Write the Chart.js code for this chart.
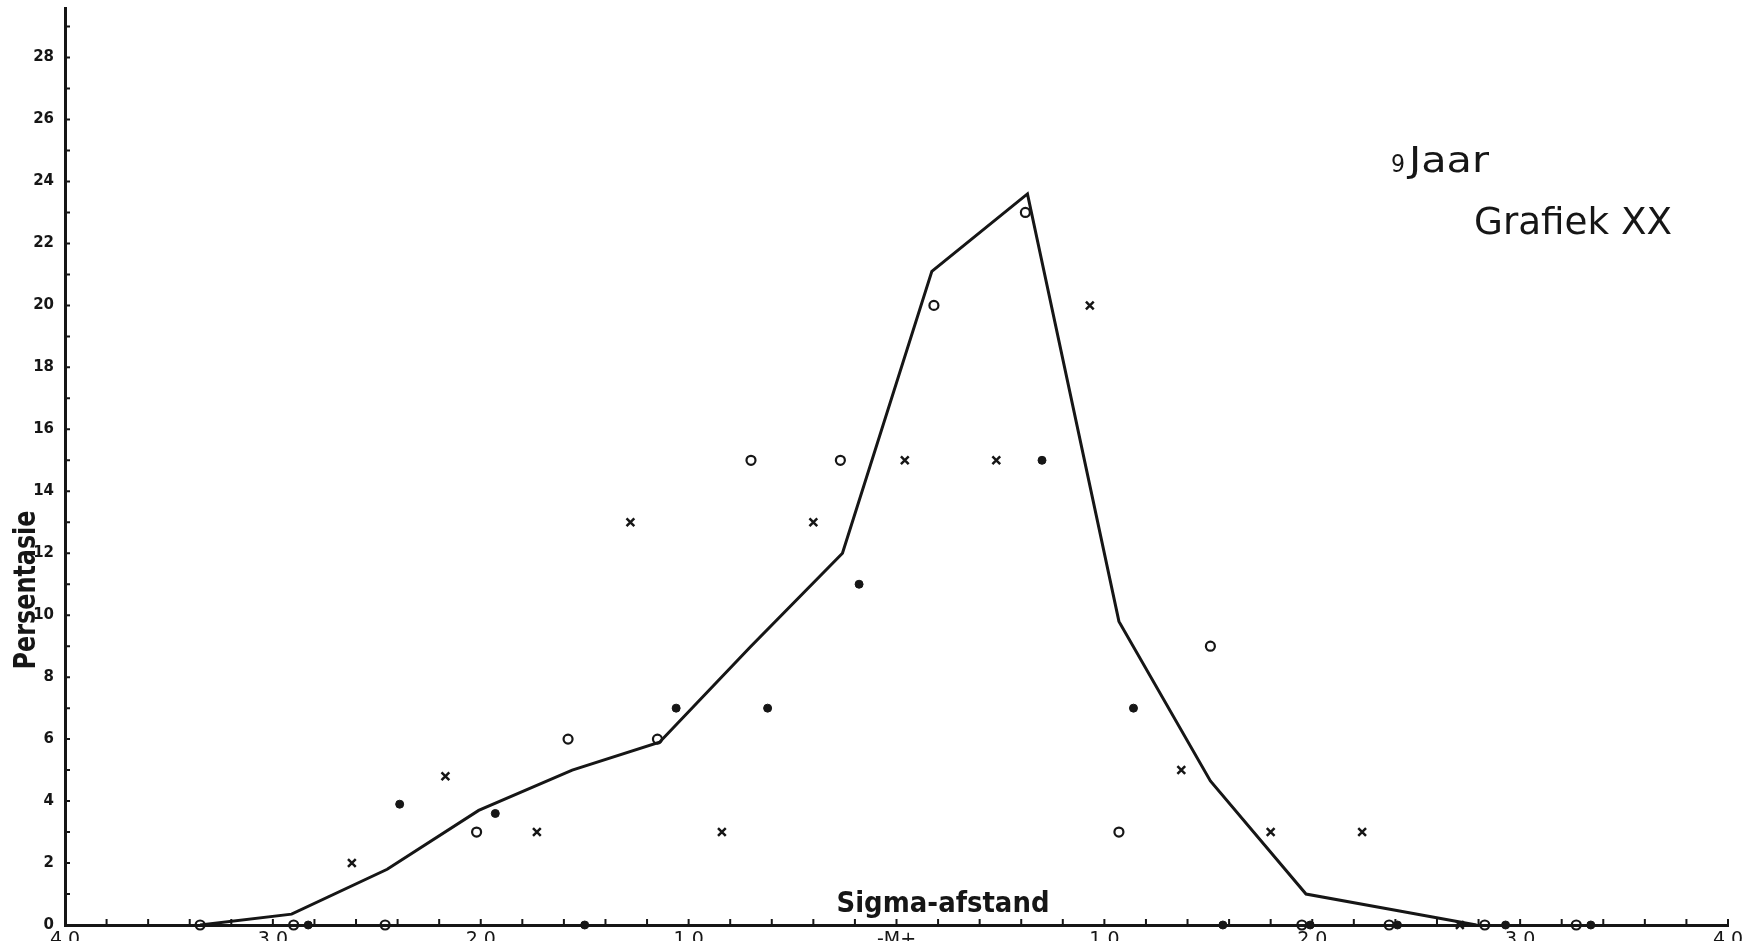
<!DOCTYPE html>
<html>
<head>
<meta charset="utf-8">
<title>Grafiek XX</title>
<script src="https://cdn.jsdelivr.net/npm/chart.js@4.4.1/dist/chart.umd.min.js"></script>
<style>
  html, body { margin: 0; padding: 0; background: #fff; overflow: hidden; }
  canvas { display: block; }
</style>
</head>
<body>
<canvas id="grafiek" width="1753" height="941"></canvas>
<script>
const INK = '#161616'

// x axis: sigma distance from the mean, labelled without sign
const xTickValues = [-4, -3, -2, -1, 0, 1, 2, 3, 4]
const xTickLabels = ['4.0', '3.0', '2.0', '1.0', '-M+', '1.0', '2.0', '3.0', '4.0']
const yTickValues = [0, 2, 4, 6, 8, 10, 12, 14, 16, 18, 20, 22, 24, 26, 28]

// frequency polygon
const lineX = [-3.35, -2.91, -2.45, -2.01, -1.56, -1.14, -0.7, -0.26, 0.17, 0.63, 1.07, 1.51, 1.97, 2.42, 2.79]
const lineY = [0, 0.35, 1.8, 3.7, 5.0, 5.9, 9.0, 12.0, 21.1, 23.6, 9.8, 4.65, 1.0, 0.45, 0]

// group "o"
const circleX = [-3.35, -2.9, -2.46, -2.02, -1.58, -1.15, -0.7, -0.27, 0.18, 0.62, 1.07, 1.51, 1.95, 2.37, 2.83, 3.27]
const circleY = [0, 0, 0, 3, 6, 6, 15, 15, 20, 23, 3, 9, 0, 0, 0, 0]

// group "•"
const dotX = [-2.83, -2.39, -1.93, -1.5, -1.06, -0.62, -0.18, 0.7, 1.14, 1.57, 1.99, 2.41, 2.93, 3.34]
const dotY = [0, 3.9, 3.6, 0, 7, 7, 11, 15, 7, 0, 0, 0, 0, 0]

// group "x"
const crossX = [-2.62, -2.17, -1.73, -1.28, -0.84, -0.4, 0.04, 0.48, 0.93, 1.37, 1.8, 2.24, 2.71]
const crossY = [2, 4.8, 3, 13, 3, 13, 15, 15, 20, 5, 3, 3, 0]

const pts = (xs, ys) => xs.map((x, i) => ({ x, y: ys[i] }))

// draws text squeezed/stretched to a given width
function fitText(ctx, text, x, y, width) {
  const w = ctx.measureText(text).width
  ctx.save()
  ctx.translate(x, y)
  ctx.scale(width / w, 1)
  ctx.fillText(text, 0, 0)
  ctx.restore()
}

// small inward tick marks on both axes
const stubs = {
  id: 'stubs',
  afterDraw(chart) {
    const { ctx, chartArea: a, scales: { x, y } } = chart
    ctx.save()
    ctx.strokeStyle = INK
    ctx.lineWidth = 2
    ctx.beginPath()
    for (let v = 1; v <= 29; v++) {
      const py = y.getPixelForValue(v)
      ctx.moveTo(a.left, py)
      ctx.lineTo(a.left + 5, py)
    }
    for (let k = -19; k <= 20; k++) {
      const px = x.getPixelForValue(k / 5)
      ctx.moveTo(px, a.bottom)
      ctx.lineTo(px, a.bottom - 6)
    }
    ctx.stroke()
    ctx.restore()
  },
}

// axis titles and headings
const lettering = {
  id: 'lettering',
  afterDraw(chart) {
    const { ctx } = chart
    ctx.save()
    ctx.fillStyle = INK
    ctx.textBaseline = 'alphabetic'

    ctx.textAlign = 'center'
    ctx.font = 'bold 28px "DejaVu Sans"'
    fitText(ctx, 'Sigma-afstand', 943, 912, 213)

    ctx.save()
    ctx.translate(35, 590)
    ctx.rotate(-Math.PI / 2)
    ctx.font = 'bold 30px "DejaVu Sans"'
    fitText(ctx, 'Persentasie', 0, 0, 159)
    ctx.restore()

    ctx.textAlign = 'left'
    ctx.font = '25px "DejaVu Sans"'
    fitText(ctx, '9', 1391, 172, 14)
    ctx.font = '36px "DejaVu Sans"'
    fitText(ctx, 'Jaar', 1409, 172, 80)
    ctx.font = '38px "DejaVu Sans"'
    fitText(ctx, 'Grafiek XX', 1474, 234, 198)
    ctx.restore()
  },
}

const config = {
  type: 'scatter',
  data: {
    datasets: [
      {
        data: pts(circleX, circleY),
        pointStyle: 'circle',
        pointRadius: 4.5,
        pointBorderWidth: 2.2,
        pointBackgroundColor: 'rgba(0,0,0,0)',
        pointBorderColor: INK,
        clip: false,
      },
      {
        data: pts(dotX, dotY),
        pointStyle: 'circle',
        pointRadius: 4,
        pointBorderWidth: 1,
        pointBackgroundColor: INK,
        pointBorderColor: INK,
        clip: false,
      },
      {
        data: pts(crossX, crossY),
        pointStyle: 'crossRot',
        pointRadius: 5.5,
        pointBorderWidth: 2.5,
        pointBorderColor: INK,
        clip: false,
      },
      {
        data: pts(lineX, lineY),
        showLine: true,
        borderColor: INK,
        borderWidth: 3,
        pointRadius: 0,
        tension: 0,
        clip: false,
      },
    ],
  },
  options: {
    responsive: false,
    animation: false,
    events: [],
    layout: { padding: { top: 7, right: 25, left: 0, bottom: 0 } },
    plugins: { legend: { display: false }, tooltip: { enabled: false } },
    scales: {
      x: {
        type: 'linear',
        min: -4,
        max: 4,
        afterBuildTicks: scale => {
          scale.ticks = xTickValues.map(value => ({ value }))
        },
        afterFit: scale => {
          scale.height = 16
          scale.paddingLeft = 0
          scale.paddingRight = 0
        },
        grid: { display: false, drawTicks: false },
        border: { display: true, color: INK, width: 3 },
        ticks: {
          padding: 4,
          color: INK,
          font: { family: 'DejaVu Sans', size: 19 },
          maxRotation: 0,
          autoSkip: false,
          callback: (value, i) => xTickLabels[i],
        },
      },
      y: {
        min: 0,
        max: 29.6,
        afterBuildTicks: scale => {
          scale.ticks = yTickValues.map(value => ({ value }))
        },
        afterFit: scale => {
          scale.width = 65
          scale.paddingTop = 0
          scale.paddingBottom = 0
        },
        grid: { display: false, drawTicks: false },
        border: { display: true, color: INK, width: 3 },
        ticks: {
          padding: 11,
          color: INK,
          font: { family: 'DejaVu Sans', size: 15, weight: 'bold' },
          autoSkip: false,
        },
      },
    },
  },
  plugins: [stubs, lettering],
}

const chart = new Chart(document.getElementById('grafiek').getContext('2d'), config)
</script>
</body>
</html>
